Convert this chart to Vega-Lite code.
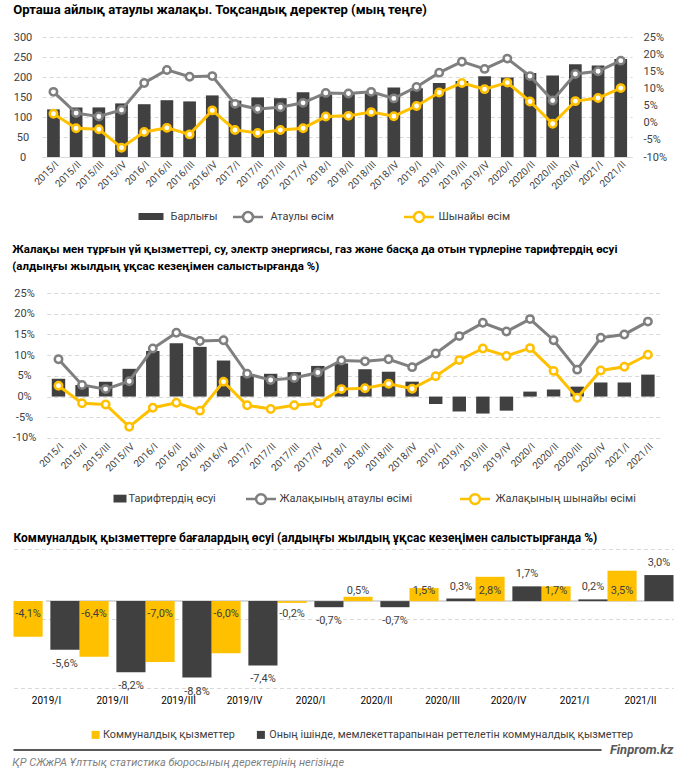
{
  "$schema": "https://vega.github.io/schema/vega-lite/v6.json",
  "padding": {"left": 11.7, "top": 3, "right": 0, "bottom": 0},
  "spacing": 2,
  "datasets": {
    "main": [
      {"q": "2015/I", "wage": 119, "tariff": 0.043, "nom": 0.090, "real": 0.026},
      {"q": "2015/II", "wage": 124, "tariff": 0.028, "nom": 0.028, "real": -0.016},
      {"q": "2015/III", "wage": 124, "tariff": 0.036, "nom": 0.018, "real": -0.019},
      {"q": "2015/IV", "wage": 134, "tariff": 0.067, "nom": 0.037, "real": -0.073},
      {"q": "2016/I", "wage": 132, "tariff": 0.110, "nom": 0.116, "real": -0.027},
      {"q": "2016/II", "wage": 142, "tariff": 0.129, "nom": 0.154, "real": -0.015},
      {"q": "2016/III", "wage": 139, "tariff": 0.120, "nom": 0.134, "real": -0.034},
      {"q": "2016/IV", "wage": 154, "tariff": 0.087, "nom": 0.136, "real": 0.036},
      {"q": "2017/I", "wage": 141, "tariff": 0.050, "nom": 0.055, "real": -0.021},
      {"q": "2017/II", "wage": 149, "tariff": 0.055, "nom": 0.040, "real": -0.030},
      {"q": "2017/III", "wage": 147, "tariff": 0.059, "nom": 0.045, "real": -0.021},
      {"q": "2017/IV", "wage": 162, "tariff": 0.074, "nom": 0.058, "real": -0.016},
      {"q": "2018/I", "wage": 156, "tariff": 0.080, "nom": 0.087, "real": 0.018},
      {"q": "2018/II", "wage": 157, "tariff": 0.066, "nom": 0.085, "real": 0.020},
      {"q": "2018/III", "wage": 159, "tariff": 0.060, "nom": 0.090, "real": 0.031},
      {"q": "2018/IV", "wage": 174, "tariff": 0.036, "nom": 0.071, "real": 0.019},
      {"q": "2019/I", "wage": 172, "tariff": -0.018, "nom": 0.104, "real": 0.049},
      {"q": "2019/II", "wage": 185, "tariff": -0.036, "nom": 0.146, "real": 0.088},
      {"q": "2019/III", "wage": 190, "tariff": -0.041, "nom": 0.178, "real": 0.116},
      {"q": "2019/IV", "wage": 202, "tariff": -0.034, "nom": 0.157, "real": 0.098},
      {"q": "2020/I", "wage": 199, "tariff": 0.012, "nom": 0.187, "real": 0.117},
      {"q": "2020/II", "wage": 210, "tariff": 0.017, "nom": 0.136, "real": 0.062},
      {"q": "2020/III", "wage": 204, "tariff": 0.024, "nom": 0.065, "real": -0.003},
      {"q": "2020/IV", "wage": 232, "tariff": 0.034, "nom": 0.142, "real": 0.063},
      {"q": "2021/I", "wage": 229, "tariff": 0.034, "nom": 0.150, "real": 0.072},
      {"q": "2021/II", "wage": 245, "tariff": 0.053, "nom": 0.181, "real": 0.101}
    ],
    "comm": [
      {"p": "2019/I", "s": "Коммуналдық қызметтер", "v": -0.041},
      {"p": "2019/I", "s": "Оның ішінде, мемлекеттарапынан реттелетін коммуналдық қызметтер", "v": -0.056},
      {"p": "2019/II", "s": "Коммуналдық қызметтер", "v": -0.064},
      {"p": "2019/II", "s": "Оның ішінде, мемлекеттарапынан реттелетін коммуналдық қызметтер", "v": -0.082},
      {"p": "2019/III", "s": "Коммуналдық қызметтер", "v": -0.070},
      {"p": "2019/III", "s": "Оның ішінде, мемлекеттарапынан реттелетін коммуналдық қызметтер", "v": -0.088},
      {"p": "2019/IV", "s": "Коммуналдық қызметтер", "v": -0.060},
      {"p": "2019/IV", "s": "Оның ішінде, мемлекеттарапынан реттелетін коммуналдық қызметтер", "v": -0.074},
      {"p": "2020/I", "s": "Коммуналдық қызметтер", "v": -0.002},
      {"p": "2020/I", "s": "Оның ішінде, мемлекеттарапынан реттелетін коммуналдық қызметтер", "v": -0.007},
      {"p": "2020/II", "s": "Коммуналдық қызметтер", "v": 0.005},
      {"p": "2020/II", "s": "Оның ішінде, мемлекеттарапынан реттелетін коммуналдық қызметтер", "v": -0.007},
      {"p": "2020/III", "s": "Коммуналдық қызметтер", "v": 0.015},
      {"p": "2020/III", "s": "Оның ішінде, мемлекеттарапынан реттелетін коммуналдық қызметтер", "v": 0.003},
      {"p": "2020/IV", "s": "Коммуналдық қызметтер", "v": 0.028},
      {"p": "2020/IV", "s": "Оның ішінде, мемлекеттарапынан реттелетін коммуналдық қызметтер", "v": 0.017},
      {"p": "2021/I", "s": "Коммуналдық қызметтер", "v": 0.017},
      {"p": "2021/I", "s": "Оның ішінде, мемлекеттарапынан реттелетін коммуналдық қызметтер", "v": 0.002},
      {"p": "2021/II", "s": "Коммуналдық қызметтер", "v": 0.035},
      {"p": "2021/II", "s": "Оның ішінде, мемлекеттарапынан реттелетін коммуналдық қызметтер", "v": 0.030}
    ]
  },
  "title": {"text": "ҚР СЖжРА Ұлттық статистика бюросының деректерінің негізінде", "orient": "bottom", "anchor": "start", "frame": "bounds", "fontSize": 11, "fontStyle": "italic", "fontWeight": "normal", "color": "#7f7f7f", "offset": 0},
  "vconcat": [
    {
      "width": 585.4, "height": 120,
      "title": {"text": "Орташа айлық атаулы жалақы. Тоқсандық деректер (мың теңге)", "fontSize": 13.1, "offset": 14},
      "data": {"name": "main"},
      "encoding": {
        "x": {"field": "q", "type": "ordinal", "sort": null, "title": null,
          "scale": {"paddingInner": 0.44, "paddingOuter": 0.22, "range": [-4.6, 585.4]},
          "axis": {"labelAngle": -45, "labelFontSize": 10, "domain": true, "domainColor": "#d9d9d9", "labelPadding": 2, "labelOverlap": false}}
      },
      "layer": [
        {
          "mark": {"type": "bar"},
          "encoding": {
            "y": {"field": "wage", "type": "quantitative", "title": null, "scale": {"domain": [0, 300]},
              "axis": {"values": [0, 50, 100, 150, 200, 250, 300], "grid": true, "labelAlign": "center", "labelPadding": 24.2, "labelOverlap": false}},
            "color": {"datum": "Барлығы", "scale": {"range": ["#404040"]},
              "legend": {"orient": "none", "legendX": 70.8, "legendY": 146, "padding": 20, "title": null, "symbolType": "M-1,-0.28L1,-0.28L1,0.28L-1,0.28Z", "symbolSize": 625, "labelOffset": 6, "labelFontSize": 11}}
          }
        },
        {
          "layer": [
            {
              "mark": {"type": "line", "strokeWidth": 3},
              "encoding": {
                "y": {"field": "nom", "type": "quantitative", "title": null, "scale": {"domain": [-0.1, 0.25]},
                  "axis": {"orient": "right", "format": ".0%", "values": [-0.1, -0.05, 0, 0.05, 0.1, 0.15, 0.2, 0.25], "grid": false, "labelAlign": "left", "labelPadding": 11, "labelOverlap": false}},
                "color": {"datum": "Атаулы өсім", "scale": {"range": ["#7f7f7f"]},
                  "legend": {"orient": "none", "legendX": 184.8, "legendY": 163.5, "title": null, "symbolType": "M-1,0L-0.33,0M0.33,0L1,0M-0.33,0A0.33,0.33 0 1,1 0.33,0A0.33,0.33 0 1,1 -0.33,0Z", "symbolSize": 900, "symbolStrokeWidth": 2.5, "symbolFillColor": "#ffffff", "labelOffset": 6, "labelFontSize": 11}}
              }
            },
            {
              "mark": {"type": "point", "shape": "circle", "filled": true, "fill": "#ffffff", "stroke": "#7f7f7f", "strokeWidth": 2.5, "size": 55, "opacity": 1},
              "encoding": {
                "y": {"field": "nom", "type": "quantitative", "title": null, "scale": {"domain": [-0.1, 0.25]},
                  "axis": {"orient": "right", "format": ".0%", "values": [-0.1, -0.05, 0, 0.05, 0.1, 0.15, 0.2, 0.25], "grid": false, "labelAlign": "left", "labelPadding": 11, "labelOverlap": false}}
              }
            },
            {
              "mark": {"type": "line", "strokeWidth": 3},
              "encoding": {
                "y": {"field": "real", "type": "quantitative", "title": null, "scale": {"domain": [-0.1, 0.25]},
                  "axis": {"orient": "right", "format": ".0%", "values": [-0.1, -0.05, 0, 0.05, 0.1, 0.15, 0.2, 0.25], "grid": false, "labelAlign": "left", "labelPadding": 11, "labelOverlap": false}},
                "color": {"datum": "Шынайы өсім", "scale": {"range": ["#ffc000"]},
                  "legend": {"orient": "none", "legendX": 355.8, "legendY": 163.5, "title": null, "symbolType": "M-1,0L-0.33,0M0.33,0L1,0M-0.33,0A0.33,0.33 0 1,1 0.33,0A0.33,0.33 0 1,1 -0.33,0Z", "symbolSize": 900, "symbolStrokeWidth": 2.5, "symbolFillColor": "#ffffff", "labelOffset": 3, "labelFontSize": 11}}
              }
            },
            {
              "mark": {"type": "point", "shape": "circle", "filled": true, "fill": "#ffffff", "stroke": "#ffc000", "strokeWidth": 2.5, "size": 55, "opacity": 1},
              "encoding": {
                "y": {"field": "real", "type": "quantitative", "title": null, "scale": {"domain": [-0.1, 0.25]},
                  "axis": {"orient": "right", "format": ".0%", "values": [-0.1, -0.05, 0, 0.05, 0.1, 0.15, 0.2, 0.25], "grid": false, "labelAlign": "left", "labelPadding": 11, "labelOverlap": false}}
              }
            }
          ],
          "resolve": {"scale": {"color": "independent"}}
        }
      ],
      "resolve": {"scale": {"y": "independent", "color": "independent"}}
    },
    {
      "width": 613, "height": 145,
      "title": {"text": ["Жалақы мен тұрғын үй қызметтері, су, электр энергиясы, газ және басқа да отын түрлеріне тарифтердің өсуі", "(алдыңғы жылдың ұқсас кезеңімен салыстырғанда  %)"], "fontSize": 11.5, "lineHeight": 17, "offset": 14.5},
      "data": {"name": "main"},
      "encoding": {
        "x": {"field": "q", "type": "ordinal", "sort": null, "title": null,
          "scale": {"paddingInner": 0.43, "paddingOuter": 0.215},
          "axis": {"labelAngle": -45, "labelFontSize": 10, "domain": false, "labelPadding": 3, "labelOverlap": false}}
      },
      "layer": [
        {
          "mark": {"type": "bar"},
          "encoding": {
            "y": {"field": "tariff", "type": "quantitative", "title": null, "scale": {"domain": [-0.1, 0.25]},
              "axis": {"format": ".0%", "values": [-0.1, -0.05, 0, 0.05, 0.1, 0.15, 0.2, 0.25], "grid": true, "labelAlign": "center", "labelPadding": 22.7, "labelOverlap": false}},
            "color": {"datum": "Тарифтердің өсуі", "scale": {"range": ["#404040"]},
              "legend": {"orient": "none", "legendX": 40.3, "legendY": 172.6, "padding": 25.5, "title": null, "symbolType": "M-1,-0.6L1,-0.6L1,0.6L-1,0.6Z", "symbolSize": 169, "labelOffset": 1, "labelFontSize": 11}}
          }
        },
        {
          "mark": {"type": "line", "strokeWidth": 3},
          "encoding": {
            "y": {"field": "nom", "type": "quantitative", "title": null, "scale": {"domain": [-0.1, 0.25]},
              "axis": {"format": ".0%", "values": [-0.1, -0.05, 0, 0.05, 0.1, 0.15, 0.2, 0.25], "grid": true, "labelAlign": "center", "labelPadding": 22.7, "labelOverlap": false}},
            "color": {"datum": "Жалақының атаулы өсімі", "scale": {"range": ["#7f7f7f"]},
              "legend": {"orient": "none", "legendX": 197.8, "legendY": 189.6, "title": null, "symbolType": "M-1,0L-0.33,0M0.33,0L1,0M-0.33,0A0.33,0.33 0 1,1 0.33,0A0.33,0.33 0 1,1 -0.33,0Z", "symbolSize": 900, "symbolStrokeWidth": 2.5, "symbolFillColor": "#ffffff", "labelOffset": 2, "labelFontSize": 11}}
          }
        },
        {
          "mark": {"type": "point", "shape": "circle", "filled": true, "fill": "#ffffff", "stroke": "#7f7f7f", "strokeWidth": 2.5, "size": 55, "opacity": 1},
          "encoding": {
            "y": {"field": "nom", "type": "quantitative", "title": null, "scale": {"domain": [-0.1, 0.25]},
              "axis": {"format": ".0%", "values": [-0.1, -0.05, 0, 0.05, 0.1, 0.15, 0.2, 0.25], "grid": true, "labelAlign": "center", "labelPadding": 22.7, "labelOverlap": false}}
          }
        },
        {
          "mark": {"type": "line", "strokeWidth": 3},
          "encoding": {
            "y": {"field": "real", "type": "quantitative", "title": null, "scale": {"domain": [-0.1, 0.25]},
              "axis": {"format": ".0%", "values": [-0.1, -0.05, 0, 0.05, 0.1, 0.15, 0.2, 0.25], "grid": true, "labelAlign": "center", "labelPadding": 22.7, "labelOverlap": false}},
            "color": {"datum": "Жалақының шынайы өсімі", "scale": {"range": ["#ffc000"]},
              "legend": {"orient": "none", "legendX": 411.8, "legendY": 189.6, "title": null, "symbolType": "M-1,0L-0.33,0M0.33,0L1,0M-0.33,0A0.33,0.33 0 1,1 0.33,0A0.33,0.33 0 1,1 -0.33,0Z", "symbolSize": 900, "symbolStrokeWidth": 2.5, "symbolFillColor": "#ffffff", "labelOffset": 4, "labelFontSize": 11}}
          }
        },
        {
          "mark": {"type": "point", "shape": "circle", "filled": true, "fill": "#ffffff", "stroke": "#ffc000", "strokeWidth": 2.5, "size": 55, "opacity": 1},
          "encoding": {
            "y": {"field": "real", "type": "quantitative", "title": null, "scale": {"domain": [-0.1, 0.25]},
              "axis": {"format": ".0%", "values": [-0.1, -0.05, 0, 0.05, 0.1, 0.15, 0.2, 0.25], "grid": true, "labelAlign": "center", "labelPadding": 22.7, "labelOverlap": false}}
          }
        }
      ],
      "resolve": {"scale": {"color": "independent"}}
    },
    {
      "width": 626.8, "height": 139,
      "title": {"text": "Коммуналдық  қызметтерге бағалардың  өсуі (алдыңғы жылдың ұқсас кезеңімен салыстырғанда  %)", "fontSize": 12, "offset": 4},
      "data": {"name": "comm"},
      "layer": [
        {
          "mark": {"type": "rule", "color": "#d9d9d9", "strokeWidth": 1},
          "encoding": {"y": {"datum": 0, "type": "quantitative"}}
        },
        {
          "transform": [{"filter": {"field": "s", "equal": "Коммуналдық қызметтер"}}],
          "mark": {"type": "bar"},
          "encoding": {
            "x": {"field": "p", "type": "ordinal", "sort": null, "title": null, "scale": {"paddingInner": 0, "paddingOuter": 0, "range": [-33.2, 626.8]},
              "axis": {"labelAngle": 0, "labelFontSize": 10, "domain": false, "labelPadding": 8, "labelColor": "#000000"}},
            "xOffset": {"field": "s", "type": "nominal", "scale": {"domain": ["Коммуналдық қызметтер", "Оның ішінде, мемлекеттарапынан реттелетін коммуналдық қызметтер"], "paddingInner": 0.21, "paddingOuter": 0}},
            "y": {"field": "v", "type": "quantitative", "title": null, "scale": {"domain": [-0.1, 0.06]},
              "axis": {"values": [-0.1, -0.08, -0.06, -0.04, -0.02, 0, 0.02, 0.04, 0.06], "grid": true, "labels": false, "minExtent": 0}},
            "color": {"datum": "Коммуналдық қызметтер", "scale": {"range": ["#ffc000"]},
              "legend": {"orient": "none", "legendX": 43.5, "legendY": 180.5, "title": null, "symbolType": "square", "symbolSize": 64, "labelOffset": 2, "labelFontSize": 10.8}}
          }
        },
        {
          "transform": [{"filter": {"field": "s", "equal": "Оның ішінде, мемлекеттарапынан реттелетін коммуналдық қызметтер"}}],
          "mark": {"type": "bar"},
          "encoding": {
            "x": {"field": "p", "type": "ordinal", "sort": null, "title": null},
            "xOffset": {"field": "s", "type": "nominal"},
            "y": {"field": "v", "type": "quantitative", "title": null},
            "color": {"datum": "Оның ішінде, мемлекеттарапынан реттелетін коммуналдық қызметтер", "scale": {"range": ["#404040"]},
              "legend": {"orient": "none", "legendX": 208.8, "legendY": 180.5, "title": null, "symbolType": "square", "symbolSize": 64, "labelOffset": 3, "labelFontSize": 10.8}}
          }
        },
        {
          "transform": [{"filter": {"and": [{"field": "s", "equal": "Коммуналдық қызметтер"}, {"field": "v", "gte": 0}]}}],
          "mark": {"type": "text", "dy": -10, "fontSize": 11, "color": "#404040"},
          "encoding": {
            "x": {"field": "p", "type": "ordinal", "sort": null, "title": null},
            "xOffset": {"field": "s", "type": "nominal"},
            "y": {"datum": 0, "type": "quantitative"},
            "text": {"field": "v", "type": "quantitative", "format": ".1%"}
          }
        },
        {
          "transform": [{"filter": {"and": [{"field": "s", "equal": "Коммуналдық қызметтер"}, {"field": "v", "lt": 0}]}}],
          "mark": {"type": "text", "dy": 13, "fontSize": 11, "color": "#404040"},
          "encoding": {
            "x": {"field": "p", "type": "ordinal", "sort": null, "title": null},
            "xOffset": {"field": "s", "type": "nominal"},
            "y": {"datum": 0, "type": "quantitative"},
            "text": {"field": "v", "type": "quantitative", "format": ".1%"}
          }
        },
        {
          "transform": [{"filter": {"and": [{"field": "s", "equal": "Оның ішінде, мемлекеттарапынан реттелетін коммуналдық қызметтер"}, {"field": "v", "gte": 0}]}}],
          "mark": {"type": "text", "dy": -12, "fontSize": 11, "color": "#404040"},
          "encoding": {
            "x": {"field": "p", "type": "ordinal", "sort": null, "title": null},
            "xOffset": {"field": "s", "type": "nominal"},
            "y": {"field": "v", "type": "quantitative"},
            "text": {"field": "v", "type": "quantitative", "format": ".1%"}
          }
        },
        {
          "transform": [{"filter": {"and": [{"field": "s", "equal": "Оның ішінде, мемлекеттарапынан реттелетін коммуналдық қызметтер"}, {"field": "v", "lt": 0}]}}],
          "mark": {"type": "text", "dy": 14, "fontSize": 11, "color": "#404040"},
          "encoding": {
            "x": {"field": "p", "type": "ordinal", "sort": null, "title": null},
            "xOffset": {"field": "s", "type": "nominal"},
            "y": {"field": "v", "type": "quantitative"},
            "text": {"field": "v", "type": "quantitative", "format": ".1%"}
          }
        }
      ],
      "resolve": {"scale": {"color": "independent"}}
    },
    {
      "width": 626.8, "height": 14,
      "data": {"values": [{"f": 1}]},
      "layer": [
        {
          "mark": {"type": "rule", "color": "#595959", "strokeWidth": 2},
          "encoding": {
            "x": {"datum": 0, "type": "quantitative", "scale": {"domain": [0, 1], "range": [-33.2, 626.8]}, "axis": null},
            "x2": {"datum": 0.891},
            "y": {"datum": 0.5, "type": "quantitative", "scale": {"domain": [0, 1]}, "axis": null}
          }
        },
        {
          "mark": {"type": "text", "align": "right", "baseline": "middle", "fontSize": 13, "fontStyle": "italic", "fontWeight": "bold", "color": "#595959"},
          "encoding": {
            "x": {"datum": 1, "type": "quantitative"},
            "y": {"datum": 0.5, "type": "quantitative"},
            "text": {"value": "Finprom.kz"}
          }
        }
      ]
    }
  ],
  "config": {
    "font": "Roboto",
    "view": {"stroke": null},
    "locale": {"number": {"decimal": ",", "thousands": " ", "grouping": [3], "currency": ["", ""], "minus": "-"}},
    "axis": {"ticks": false, "domain": false, "labelColor": "#404040", "labelFontSize": 11, "gridColor": "#d9d9d9", "gridDash": [4, 3], "gridWidth": 1},
    "title": {"anchor": "start", "frame": "bounds", "fontWeight": "bold", "color": "#000000"},
    "legend": {"labelFontSize": 11.5, "labelColor": "#404040", "labelLimit": 600, "padding": 0}
  }
}
